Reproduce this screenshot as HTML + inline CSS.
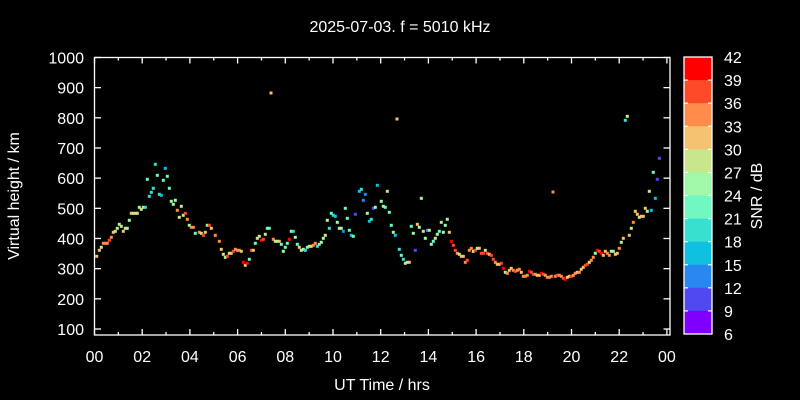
<!DOCTYPE html>
<html><head><meta charset="utf-8"><style>
html,body{margin:0;padding:0;background:#000;}
svg{display:block;font-family:"Liberation Sans",sans-serif;}
</style></head><body>
<svg id="s" width="800" height="400" xmlns="http://www.w3.org/2000/svg">
<rect width="800" height="400" fill="#000"/>
<text x="400" y="32" fill="#fff" font-size="16" text-anchor="middle">2025-07-03. f = 5010 kHz</text>
<rect x="94.5" y="57.5" width="575.5" height="277.5" fill="none" stroke="#fff" stroke-width="1.3"/>
<g id="ticks" stroke="#fff" stroke-width="1.3"></g>
<g id="lab" fill="#fff" font-size="16"></g>
<text transform="translate(19,196) rotate(-90)" fill="#fff" font-size="16" text-anchor="middle">Virtual height / km</text>
<text x="382" y="390" fill="#fff" font-size="16" text-anchor="middle">UT Time / hrs</text>
<g id="cb"></g>
<text transform="translate(762,196) rotate(-90)" fill="#fff" font-size="16" text-anchor="middle">SNR / dB</text>
<g id="pts"></g>
</svg>
<script>
var NS="http://www.w3.org/2000/svg";
function el(p,t,a,txt){var e=document.createElementNS(NS,t);for(var k in a)e.setAttribute(k,a[k]);if(txt!==undefined)e.textContent=txt;document.getElementById(p).appendChild(e);return e;}
for(var v=100;v<=1000;v+=100){var y=329-(v-100)*30.17/100;
el("ticks","line",{x1:94.5,y1:y,x2:101,y2:y});el("ticks","line",{x1:670,y1:y,x2:663.5,y2:y});
el("lab","text",{x:84,y:y+6,"text-anchor":"end"},String(v));}
for(var h=0;h<=24;h++){var x=94.5+h*23.85;var L=(h%2==0)?6:3;
el("ticks","line",{x1:x,y1:335,x2:x,y2:335-L});el("ticks","line",{x1:x,y1:57.5,x2:x,y2:57.5+L});
if(h%2==0){var s=(h%24<10?"0":"")+(h%24);el("lab","text",{x:x,y:362,"text-anchor":"middle"},s);}}
var cols=["#ff0000","#ff4a2a","#ff8c4a","#f5c270","#c8e68c","#a0f8a8","#70f8c0","#38e0d0","#10c0e0","#2888f0","#5048f0","#8000ff"];
var cbTop=57,cbBot=334,hh=(cbBot-cbTop)/12;
for(var i=0;i<12;i++){el("cb","rect",{x:684,y:cbTop+i*hh,width:28,height:hh+0.5,fill:cols[i]});}
el("cb","rect",{x:684,y:cbTop,width:28,height:cbBot-cbTop,fill:"none",stroke:"#fff","stroke-width":1.3});
for(var i=0;i<=12;i++){var y=cbTop+i*hh;
if(i>0&&i<12){el("cb","line",{x1:684,y1:y,x2:688,y2:y,stroke:"#fff","stroke-width":1.2});el("cb","line",{x1:712,y1:y,x2:708,y2:y,stroke:"#fff","stroke-width":1.2});}
el("cb","text",{x:724,y:y+6,fill:"#fff","font-size":16},String(42-3*i));}
var C={red:"#ff0000",R:"#ff4a2a",O:"#ff8c4a",o:"#f5c270",g:"#c8e68c",lg:"#a0f8a8",m:"#70f8c0",c:"#38e0d0",b:"#10c0e0",bl:"#2888f0",v:"#5048f0"};
var P="96.7,256.3,o;99.3,250.3,o;101.3,247.3,g;103.3,243.3,O;105.3,243.3,O;107.3,243.3,O;109.3,240.3,R;111.3,237.3,O;113.3,232.3,o;115.3,231.3,g;117.3,228.3,g;119.3,224.3,lg;121.3,226.3,g;123.3,231.3,o;125.3,228.3,g;127.3,228.3,lg;129.3,220.3,lg;131.3,213.3,o;133.3,213.3,g;135.3,213.3,g;137.3,213.3,g;139.3,207.3,g;141.3,209.3,g;143.3,207.3,lg;145.3,207.3,c;147.3,179.3,m;149.3,196.3,c;151.3,192.3,c;153.3,188.3,c;155.3,164.3,c;157.3,175.3,m;159.3,194.3,c;161.3,195.3,b;163.3,180.3,m;165.3,168.3,b;167.3,176.3,m;169.3,188.3,m;171.3,201.3,lg;173.3,204.3,lg;175.3,200.3,lg;177.3,210.3,O;179.3,217.3,g;181.3,206.3,g;183.3,215.3,g;185.3,213.3,R;187.3,219.3,O;189.3,225.3,lg;191.3,227.3,O;193.3,227.3,O;195.3,233.3,m;199.3,232.3,O;201.3,233.3,g;203.3,235.3,R;205.3,232.3,o;207.3,225.3,lg;209.3,225.3,R;211.3,228.3,o;215.3,235.3,O;219.3,241.3,O;221.3,249.3,o;223.3,254.3,g;225.3,257.3,lg;227.3,256.3,R;229.3,253.3,g;231.3,253.3,o;233.3,251.3,R;235.3,249.3,O;237.3,250.3,O;239.3,250.3,O;241.3,251.3,o;243.3,262.3,red;245.3,265.3,o;247.3,263.3,red;249.3,259.3,m;251.3,250.3,R;253.3,250.3,o;255.3,243.3,m;257.3,238.3,g;259.3,236.3,g;261.3,240.3,red;263.3,239.3,R;265.3,234.3,g;267.3,228.3,m;269.3,228.3,m;273.3,239.3,O;275.3,241.3,g;277.3,241.3,lg;279.3,241.3,o;281.3,244.3,m;283.3,251.3,lg;285.3,247.3,m;287.3,243.3,m;289.3,239.3,red;271,93,o;"+
"291.3,231.3,lg;293.3,231.3,c;295.3,237.3,lg;297.3,244.3,m;299.3,247.3,o;301.3,250.3,g;303.3,249.3,lg;305.3,250.3,c;307.3,247.3,m;309.3,246.3,g;311.3,246.3,g;313.3,245.3,O;315.3,243.3,O;317.3,246.3,c;319.3,244.3,m;321.3,242.3,lg;323.3,238.3,lg;325.3,235.3,g;327.3,220.3,g;329.3,228.3,c;331.3,213.3,m;333.3,215.3,c;335.3,216.3,b;337.3,222.3,lg;339.3,228.3,g;341.3,228.3,lg;343.3,231.3,bl;345.3,208.3,m;347.3,218.3,m;349.3,230.3,m;351.3,235.3,b;353.3,236.3,m;355.3,214.3,v;359.3,191.3,b;361.3,189.3,c;363.3,200.3,bl;365.3,194.3,bl;367.3,213.3,lg;369.3,221.3,b;371.3,219.3,c;373.3,208.3,v;375.3,207.3,lg;377.3,185.3,b;381.3,201.3,lg;383.3,206.3,lg;385.3,207.3,m;387.3,191.3,g;389.3,212.3,m;391.3,225.3,m;393.3,232.3,lg;395.3,235.3,b;399.3,249.3,c;401.3,255.3,m;403.3,259.3,c;405.3,263.3,g;407.3,262.3,lg;409.3,262.3,o;411.3,226.3,m;413.3,233.3,lg;415.3,250.3,v;417.3,224.3,o;419.3,227.3,lg;421.3,198.3,lg;423.3,231.3,g;425.3,238.3,lg;427.3,230.3,bl;429.3,230.3,g;431.3,244.3,lg;433.3,241.3,m;435.3,238.3,g;437.3,234.3,lg;439.3,231.3,m;441.3,222.3,g;443.3,232.3,lg;445.3,225.3,lg;447.3,219.3,lg;449.3,232.3,o;451.3,241.3,red;453.3,245.3,R;455.3,250.3,R;457.3,253.3,O;459.3,254.3,g;461.3,256.3,o;463.3,256.3,o;465.3,262.3,O;467.3,260.3,R;469.3,250.3,O;471.3,248.3,O;473.3,251.3,g;475.3,250.3,R;477.3,248.3,lg;397,119,o;553,192,O;"+
"479.3,248.3,o;481.3,253.3,R;483.3,253.3,R;485.3,250.3,g;487.3,253.3,R;489.3,254.3,o;491.3,255.3,R;493.3,259.3,R;495.3,262.3,O;497.3,264.3,o;499.3,264.3,o;501.3,263.3,R;503.3,268.3,red;505.3,272.3,lg;507.3,273.3,O;509.3,270.3,o;511.3,268.3,o;513.3,270.3,O;515.3,271.3,R;517.3,270.3,O;519.3,269.3,O;521.3,272.3,o;523.3,276.3,O;525.3,276.3,O;527.3,275.3,O;529.3,271.3,red;531.3,272.3,R;533.3,274.3,R;535.3,274.3,O;537.3,275.3,o;539.3,275.3,o;541.3,273.3,red;543.3,274.3,R;545.3,275.3,O;547.3,277.3,O;549.3,277.3,O;551.3,276.3,O;555.3,276.3,O;557.3,275.3,R;559.3,275.3,O;561.3,276.3,O;563.3,278.3,R;565.3,279.3,red;567.3,277.3,o;569.3,276.3,o;571.3,276.3,R;573.3,275.3,O;575.3,273.3,O;577.3,272.3,o;579.3,272.3,O;581.3,269.3,o;583.3,267.3,o;585.3,265.3,R;587.3,264.3,R;589.3,262.3,g;591.3,260.3,O;593.3,257.3,O;595.3,253.3,lg;597.3,250.3,red;599.3,251.3,R;601.3,253.3,red;603.3,255.3,o;605.3,251.3,o;607.3,253.3,O;609.3,255.3,O;611.3,251.3,lg;613.3,251.3,lg;615.3,254.3,o;617.3,253.3,o;619.3,248.3,O;621.3,242.3,g;623.3,238.3,o;629.3,235.3,o;"+
"627.3,116.3,g;625.3,120.3,c;659.3,158.3,v;653.3,172.3,m;657.3,179.3,v;649.3,191.3,g;655.3,198.3,b;645.3,208.3,o;635.3,211.3,o;637.3,214.3,o;647.3,211.3,lg;651.3,210.3,b;639.3,217.3,g;641.3,216.3,o;643.3,216.3,o;633.3,222.3,O;631.3,228.3,g";
P.split(";").forEach(function(s){var a=s.split(",");if(a.length<3)return;
el("pts","rect",{x:(+a[0]-1.5).toFixed(1),y:(+a[1]-1.5).toFixed(1),width:3,height:3,fill:C[a[2]]});});
</script>
</body></html>
